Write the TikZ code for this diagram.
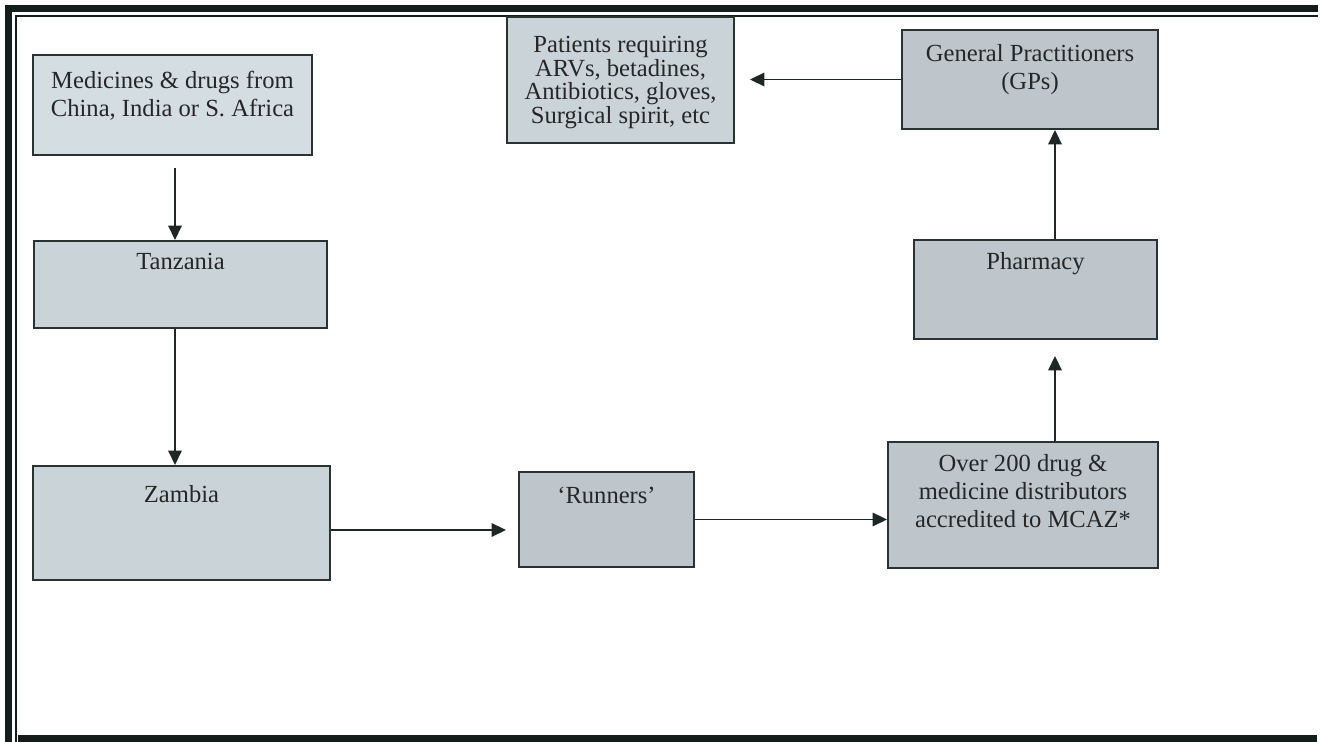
\documentclass[tikz,border=0pt]{standalone}
\usepackage{fontspec}
\setmainfont{Liberation Serif}
\usetikzlibrary{arrows.meta, calc}
\definecolor{frameInk}{HTML}{141C1C}
\definecolor{boxLine}{HTML}{2A3232}
\definecolor{boxFill}{HTML}{CAD3D8}
\definecolor{boxFillLight}{HTML}{D4DDE2}
\definecolor{boxFillDark}{HTML}{BEC6CB}
\definecolor{arrowInk}{HTML}{1E2626}

\begin{document}
\begin{tikzpicture}[
    x=0.02cm, y=-0.02cm,
    box/.style={
        rectangle,
        draw=boxLine,
        fill=boxFill,
        line width=1.1pt,
        inner sep=0pt
    },
    boxtext/.style={
        anchor=north,
        inner sep=0pt,
        align=center,
        font=\fontsize{14}{16}\selectfont,
        text=black!85
    },
    arrow/.style={-{Triangle[length=2.9mm, width=2.7mm]}, draw=arrowInk, line width=1pt},
    frame/.style={draw=frameInk}
]
\useasboundingbox (0,0) rectangle (1320,742);

% Page frame, open on the right
\draw[frame, line width=4pt] (8.5,745) -- (8.5,8.5) -- (1318,8.5);
\draw[frame, line width=0.8pt] (16,745) -- (16,16) -- (1318,16);
\draw[frame, line width=4pt] (17.5,738.5) -- (1317,738.5);

% Supply route on the left
\node[box, fill=boxFillLight, minimum width=5.58cm, minimum height=2.0cm,
    label={[boxtext, yshift=-0.34cm]north:Medicines \& drugs from\\China, India or S. Africa}] (meds) at (172.5,105) {};
\node[box, minimum width=5.86cm, minimum height=1.74cm,
    label={[boxtext, yshift=-0.26cm]north:Tanzania}] (tanz) at (180.5,284.5) {};
\node[box, minimum width=5.94cm, minimum height=2.28cm,
    label={[boxtext, yshift=-0.40cm]north:Zambia}] (zam) at (181.5,523) {};

% Middle and right column
\node[box, fill=boxFillDark, minimum width=3.5cm, minimum height=1.9cm,
    label={[boxtext, yshift=-0.32cm]north:‘Runners’}] (run) at (606.5,519.5) {};
\node[box, fill=boxFillDark, minimum width=5.4cm, minimum height=2.52cm,
    label={[boxtext, yshift=-0.26cm]north:Over 200 drug \&\\medicine distributors\\accredited to MCAZ*}] (over) at (1023,505) {};
\node[box, fill=boxFillDark, minimum width=4.86cm, minimum height=1.98cm,
    label={[boxtext, yshift=-0.26cm]north:Pharmacy}] (pharm) at (1035.5,289.5) {};
\node[box, fill=boxFillDark, minimum width=5.12cm, minimum height=1.98cm,
    label={[boxtext, yshift=-0.30cm]north:General Practitioners\\(GPs)}] (gps) at (1030,79.5) {};
\node[box, minimum width=4.54cm, minimum height=2.52cm,
    label={[boxtext, yshift=-0.40cm, font=\fontsize{14}{13.4}\selectfont]north:Patients requiring\\ARVs, betadines,\\Antibiotics, gloves,\\Surgical spirit, etc}] (pat) at (620.5,80) {};

% Lines the arrows run along
\coordinate (westcol) at (175,0);
\coordinate (eastcol) at (1055,0);
\coordinate (lowrow) at (0,530);

% Arrows
\draw[arrow, shorten <=0.24cm] (westcol |- meds.south) -- (westcol |- tanz.north);
\draw[arrow] (westcol |- tanz.south) -- (westcol |- zam.north);
\draw[arrow, shorten >=0.24cm] (lowrow -| zam.east) -- (lowrow -| run.west);
\draw[arrow] (run.east) -- (run.east -| over.west);
\draw[arrow, shorten >=0.32cm] (eastcol |- over.north) -- (eastcol |- pharm.south);
\draw[arrow] (eastcol |- pharm.north) -- (eastcol |- gps.south);
\draw[arrow, shorten >=0.3cm] (gps.west) -- (gps.west -| pat.east);

\end{tikzpicture}
\end{document}
